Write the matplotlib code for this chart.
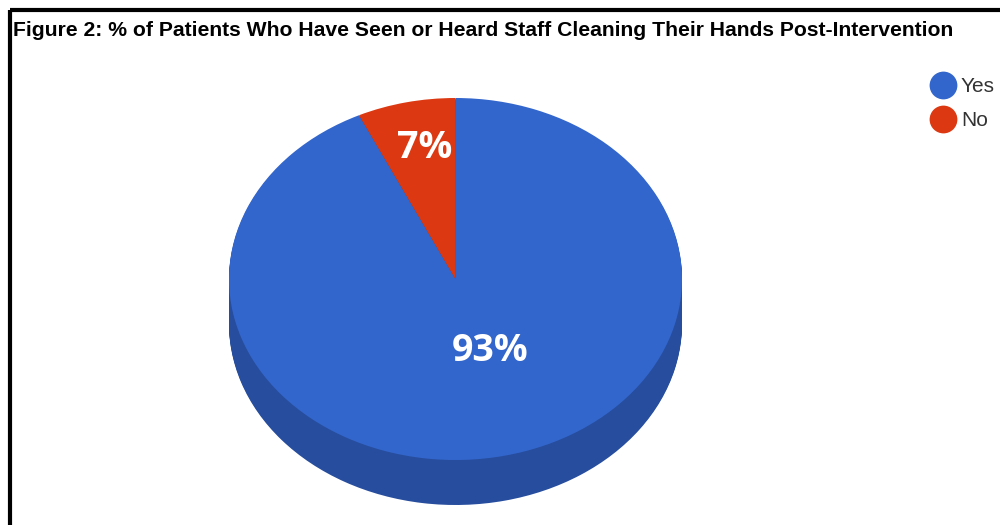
import numpy as np
import matplotlib
matplotlib.use("Agg")
from matplotlib import pyplot as plt
from matplotlib.patches import Rectangle

# data
labels = ["Yes", "No"]
values = [93, 7]
colors = ["#3366CC", "#DC3912"]
side_colors = ["#274E9E", "#A52B0E"]
title = "Figure 2: % of Patients Who Have Seen or Heard Staff Cleaning Their Hands Post-Intervention"

W, H = 1000, 525
cx, cy = 455.5, 279.0     # centre of the top face (px)
rx, ry = 226.5, 181.0     # radii of the top face (px)
depth = 45                # thickness of the 3d side (px)

fig = plt.figure(figsize=(W / 100, H / 100), dpi=100)
fig.patch.set_facecolor("white")

# pie axes: one data unit = rx px horizontally, ry px vertically
ax = fig.add_axes([0, 0, 1, 1])

# side of the pie, stacked one pixel at a time
for k in range(depth, 0, -1):
    ax.pie(values, colors=side_colors, startangle=90, counterclock=False,
           radius=1, center=(0, -k / ry), wedgeprops=dict(linewidth=0))

# top face
wedges, texts, autotexts = ax.pie(
    values, colors=colors, startangle=90, counterclock=False, radius=1,
    center=(0, 0), autopct="%d%%", pctdistance=0.6,
    wedgeprops=dict(linewidth=0),
    textprops=dict(color="white", fontsize=27, fontweight="bold", family="Open Sans"))

# put the percentages where they sit on the face
total = float(sum(values))
start = 90.0
for v, t, r, dx in zip(values, autotexts, [0.41, 0.74], [0.065, 0.026]):
    mid = np.deg2rad(start - 360.0 * v / total / 2)
    t.set_position((r * np.cos(mid) + dx, r * np.sin(mid)))
    t.set_ha("center")
    t.set_va("center")
    start -= 360.0 * v / total

ax.set_aspect("auto")
ax.set_xlim((0 - cx) / rx, (W - cx) / rx)
ax.set_ylim((cy - H) / ry, cy / ry)
ax.axis("off")

# overlay in pixel coordinates for the frame, title and legend
ov = fig.add_axes([0, 0, 1, 1], zorder=5)
ov.set_xlim(0, W)
ov.set_ylim(H, 0)
ov.axis("off")
ov.patch.set_alpha(0)

ov.add_patch(Rectangle((10, 10), W + 50, H + 50, fill=False, edgecolor="black", linewidth=3))
ov.text(13, 31, title, fontsize=15.2, fontweight="bold", family="Liberation Sans",
        ha="left", va="center", color="black")

for i, (lab, col) in enumerate(zip(labels, colors)):
    y = 85 + i * 34
    ov.scatter([943], [y], s=400, color=col, linewidths=0)
    ov.text(961, y + 1, lab, fontsize=15, family="Liberation Sans", color="#333333",
            ha="left", va="center")

plt.savefig("out.png", dpi=100)
